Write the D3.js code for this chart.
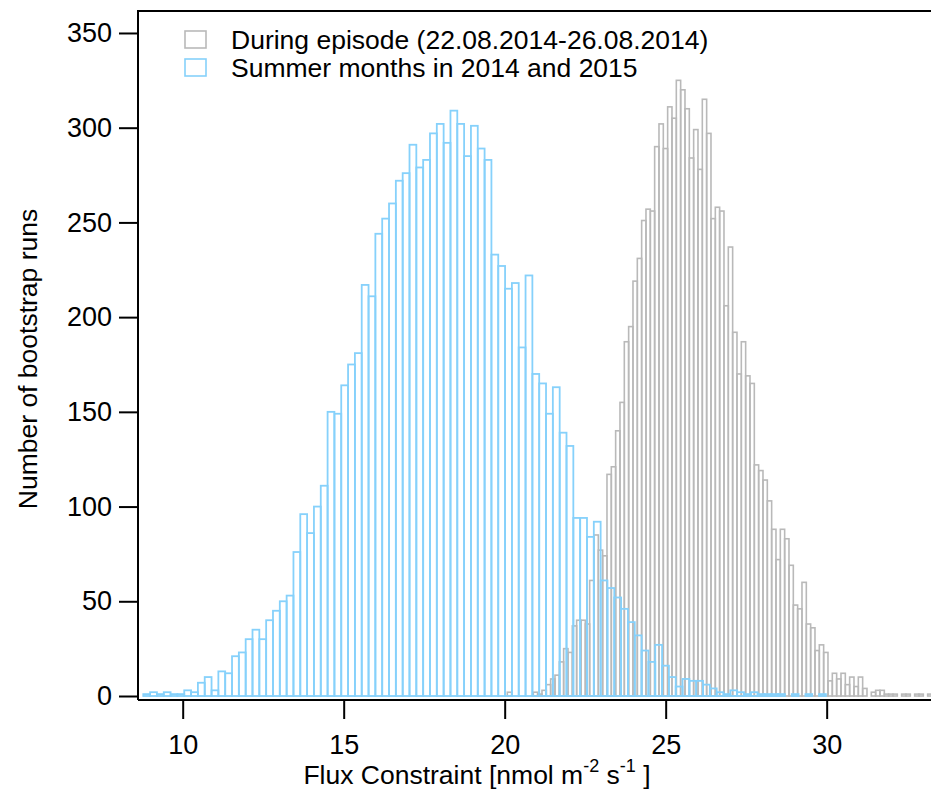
<!DOCTYPE html>
<html>
<head>
<meta charset="utf-8">
<script src="https://cdn.jsdelivr.net/npm/d3@7"></script>
<style>
  html, body { margin: 0; padding: 0; background: #fff; }
  svg { display: block; }
  text { font-family: "Liberation Sans", Arial, sans-serif; fill: #000; }
</style>
</head>
<body>
<svg id="chart" width="931" height="796"></svg>
<script>
// ---- Data ----
const seriesNames = ["During episode (22.08.2014-26.08.2014)", "Summer months in 2014 and 2015"];

// Summer months histogram (bin start / bin width in nmol m-2 s-1, counts)
const summerStart = 8.776;
const summerWidth = 0.212;
const summerCounts = [1,2,1,2,1,1,3,2,7,10,3,13,12,21,23,30,35,30,40,45,50,53,76,96,86,100,111,150,149,164,
  175,181,217,211,244,252,260,272,276,291,279,283,297,302,292,309,302,285,301,289,283,233,227,215,218,184,222,170,165,149,
  163,139,132,94,94,84,92,61,57,52,46,39,32,24,18,27,16,10,5,9,8,8,6,4,2,1,3,2,1,2,
  1,1,1,1,0,1,0,1,0,1];

// During episode histogram
const episodeStart = 19.8125;
const episodeWidth = 0.13458;
const episodeCounts = [0,0,2,0,0,0,0,0,2,1,3,6,9,11,18,25,23,37,40,40,38,61,85,77,74,117,121,140,155,187,
  195,219,231,251,257,256,290,302,289,311,305,325,320,310,284,299,278,315,297,252,258,256,206,237,192,170,187,169,165,122,
  119,114,103,88,72,88,83,69,48,46,60,38,36,24,27,23,8,12,9,12,6,10,5,10,4,0,2,3,3,1,
  1,1,0,1,1,0,1,1,0,1];

const xTicks = [10, 15, 20, 25, 30];
const yTicks = [0, 50, 100, 150, 200, 250, 300, 350];

(function draw() {
  const svg = d3.select("#chart");
  const pL = 138, pR = 931, pT = 11, pB = 700;
  const x = d3.scaleLinear().domain([8.612, 33.24]).range([pL, pR]);
  const y = d3.scaleLinear().domain([-2.11, 361.6]).range([pB, pT]);

  const grayColor = "#b9b9b9";
  const blueColor = "#86d1fb";
  const fontSize = 26.5;
  const tickFont = 27;

  function bins(start, width, counts) {
    return counts.map((c, i) => ({x0: start + i * width, x1: start + (i + 1) * width, c}));
  }

  svg.append("clipPath").attr("id", "clip").append("rect")
    .attr("x", pL).attr("y", pT - 2).attr("width", pR - pL + 2).attr("height", pB - pT + 2);
  const plot = svg.append("g").attr("clip-path", "url(#clip)");

  plot.append("g").selectAll("rect").data(bins(episodeStart, episodeWidth, episodeCounts)).join("rect")
    .attr("x", d => x(d.x0)).attr("width", d => x(d.x1) - x(d.x0))
    .attr("y", d => y(d.c)).attr("height", d => y(0) - y(d.c))
    .attr("fill", "none").attr("stroke", grayColor).attr("stroke-width", 1.6);

  plot.append("g").selectAll("rect").data(bins(summerStart, summerWidth, summerCounts)).join("rect")
    .attr("x", d => x(d.x0)).attr("width", d => x(d.x1) - x(d.x0))
    .attr("y", d => y(d.c)).attr("height", d => y(0) - y(d.c))
    .attr("fill", "none").attr("stroke", blueColor).attr("stroke-width", 1.8);

  const xAxis = svg.append("g").attr("transform", `translate(0,${pB})`)
    .call(d3.axisBottom(x).tickValues(xTicks).tickSize(19).tickPadding(16).tickFormat(d3.format("d")));
  const yAxis = svg.append("g").attr("transform", `translate(${pL},0)`)
    .call(d3.axisLeft(y).tickValues(yTicks).tickSize(19).tickPadding(7).tickFormat(d3.format("d")));
  [xAxis, yAxis].forEach(a => {
    a.select(".domain").attr("stroke", "#000").attr("stroke-width", 2);
    a.selectAll(".tick line").attr("stroke", "#000").attr("stroke-width", 2);
    a.selectAll(".tick text").style("font-size", tickFont + "px")
      .style("font-family", '"Liberation Sans", Arial, sans-serif').attr("fill", "#000");
  });
  xAxis.select(".domain").attr("d", `M${pL},0H${pR}`);
  yAxis.select(".domain").attr("d", `M0,${pB}V${pT}`);

  svg.append("line").attr("x1", pL - 1).attr("x2", pR).attr("y1", pT).attr("y2", pT)
    .attr("stroke", "#000").attr("stroke-width", 2);

  const xt = svg.append("text").attr("x", 477).attr("y", 784).attr("text-anchor", "middle")
    .style("font-size", fontSize + "px");
  xt.append("tspan").text("Flux Constraint [nmol m");
  xt.append("tspan").attr("dy", -12).style("font-size", "18px").text("-2");
  xt.append("tspan").attr("dy", 12).text(" s");
  xt.append("tspan").attr("dy", -12).style("font-size", "18px").text("-1");
  xt.append("tspan").attr("dy", 12).text(" ]");

  svg.append("text").attr("transform", "translate(37,359) rotate(-90)").attr("text-anchor", "middle")
    .style("font-size", fontSize + "px").text("Number of bootstrap runs");

  const legend = svg.append("g");
  [[grayColor, 31, 49], [blueColor, 59, 77]].forEach(([col, sy, ty], i) => {
    legend.append("rect").attr("x", 185).attr("y", sy).attr("width", 21).attr("height", 17)
      .attr("fill", "none").attr("stroke", col).attr("stroke-width", 1.6);
    legend.append("text").attr("x", 231).attr("y", ty).style("font-size", fontSize + "px").text(seriesNames[i]);
  });
})();
</script>
</body>
</html>
